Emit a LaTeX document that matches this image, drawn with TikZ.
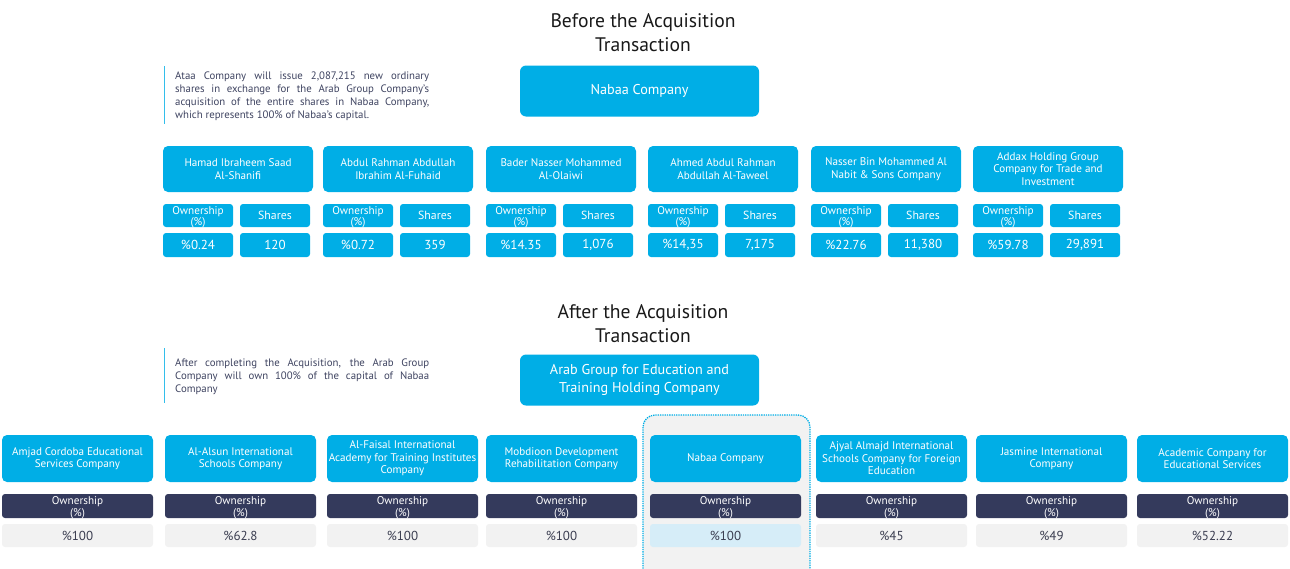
\documentclass[tikz,border=0pt]{standalone}
\usepackage{fontspec}
\setmainfont{PT Sans}
\usetikzlibrary{positioning}

\definecolor{nabaacyan}{HTML}{00AEE6}
\definecolor{ownnavy}{HTML}{343A5C}
\definecolor{valgrey}{HTML}{F2F2F2}
\definecolor{valblue}{HTML}{D6EDF8}
\definecolor{notegrey}{HTML}{3E4360}
\definecolor{valtext}{HTML}{3A3D50}

\tikzset{
  title/.style={align=center,font=\fontsize{19.6}{24}\selectfont,text=black!90},
  headbox/.style={fill=nabaacyan,text=white,rounded corners=6pt,align=center,
    minimum width=239pt,minimum height=51pt,inner sep=0pt,font=\fontsize{14.2}{18}\selectfont},
  note/.style={text width=254pt,align=justify,inner sep=0pt,text=notegrey,
    font=\fontsize{10.8}{13}\selectfont},
  notebar/.style={draw=nabaacyan!80,line width=1.5pt},
  namebox/.style={fill=nabaacyan,text=white,rounded corners=5pt,align=center,
    minimum width=150pt,minimum height=46pt,inner sep=0pt,font=\fontsize{11.1}{12.5}\selectfont},
  ownhead/.style={fill=nabaacyan,text=white,rounded corners=3pt,align=center,
    minimum width=70pt,minimum height=23pt,inner sep=0pt,text height=20pt,text depth=0pt,
    font=\fontsize{11.2}{10}\selectfont},
  shrhead/.style={ownhead,text height=,text depth=,font=\fontsize{11.8}{12}\selectfont},
  topval/.style={shrhead,minimum height=24pt,font=\fontsize{13}{14}\selectfont},
  subname/.style={namebox,minimum width=151pt,minimum height=47pt},
  navyhead/.style={fill=ownnavy,text=white,rounded corners=3pt,align=center,
    minimum width=151pt,minimum height=24pt,inner sep=0pt,text height=20pt,text depth=0pt,
    font=\fontsize{11.2}{10}\selectfont},
  pctbox/.style={fill=valgrey,text=valtext,rounded corners=3pt,
    minimum width=151pt,minimum height=23pt,inner sep=0pt,font=\fontsize{13}{14}\selectfont},
}

\begin{document}
\begin{tikzpicture}[x=1pt,y=-1pt]
  \useasboundingbox (0,0) rectangle (1290,568);

  % before the acquisition
  \node[title] (beforetitle) at (643,32.5) {Before the Acquisition\\Transaction};
  \node[headbox] (nabaatop) at (639.5,91) {Nabaa Company};
  \draw[notebar] (164.5,66) -- (164.5,124);
  \node[note,anchor=west] (beforenote) at (175,96.5) {Ataa Company will issue 2,087,215 new ordinary\linebreak
    shares in exchange for the Arab Group Company’s\linebreak
    acquisition of the entire shares in Nabaa Company,\linebreak
    which represents 100\% of Nabaa’s capital.};

  \node[namebox] (hamad) at (238,169) {Hamad Ibraheem Saad\\Al-Shanifi};
  \node[ownhead] (hamadown) at (198,215.5) {Ownership\\(\%)};
  \node[shrhead] (hamadshr) at (275,215.5) {Shares};
  \node[topval] (hamadpct) at (198,245) {\%0.24};
  \node[topval] (hamadnum) at (275,245) {120};

  \node[namebox] (fuhaid) at (398,169) {Abdul Rahman Abdullah\\Ibrahim Al-Fuhaid};
  \node[ownhead] (fuhaidown) at (358,215.5) {Ownership\\(\%)};
  \node[shrhead] (fuhaidshr) at (435,215.5) {Shares};
  \node[topval] (fuhaidpct) at (358,245) {\%0.72};
  \node[topval] (fuhaidnum) at (435,245) {359};

  \node[namebox] (olaiwi) at (561,169) {Bader Nasser Mohammed\\Al-Olaiwi};
  \node[ownhead] (olaiwiown) at (521,215.5) {Ownership\\(\%)};
  \node[shrhead] (olaiwishr) at (598,215.5) {Shares};
  \node[topval] (olaiwipct) at (521,245) {\%14.35};
  \node[topval] (olaiwinum) at (598,245) {1,076};

  \node[namebox] (taweel) at (723,169) {Ahmed Abdul Rahman\\Abdullah Al-Taweel};
  \node[ownhead] (taweelown) at (683,215.5) {Ownership\\(\%)};
  \node[shrhead] (taweelshr) at (760,215.5) {Shares};
  \node[topval] (taweelpct) at (683,245) {\%14,35};
  \node[topval] (taweelnum) at (760,245) {7,175};

  \node[namebox] (nabit) at (886,169) {Nasser Bin Mohammed Al\\Nabit \& Sons Company};
  \node[ownhead] (nabitown) at (846,215.5) {Ownership\\(\%)};
  \node[shrhead] (nabitshr) at (923,215.5) {Shares};
  \node[topval] (nabitpct) at (846,245) {\%22.76};
  \node[topval] (nabitnum) at (923,245) {11,380};

  \node[namebox] (addax) at (1048,169) {Addax Holding Group\\Company for Trade and\\Investment};
  \node[ownhead] (addaxown) at (1008,215.5) {Ownership\\(\%)};
  \node[shrhead] (addaxshr) at (1085,215.5) {Shares};
  \node[topval] (addaxpct) at (1008,245) {\%59.78};
  \node[topval] (addaxnum) at (1085,245) {29,891};

  % after the acquisition
  \node[title] (aftertitle) at (643,323.5) {After the Acquisition\\Transaction};
  \node[headbox] (arabgroup) at (639.5,380) {Arab Group for Education and\\Training Holding Company};
  \draw[notebar] (164.5,348) -- (164.5,403);
  \node[note,anchor=west] (afternote) at (175,377) {After completing the Acquisition, the Arab Group\linebreak
    Company will own 100\% of the capital of Nabaa\linebreak
    Company};

  \begin{scope}
    \clip (0,0) rectangle (1290,568);
    \draw[nabaacyan,densely dotted,line width=1.3pt,fill=valgrey,rounded corners=12pt]
      (643,415) rectangle (810,585);
  \end{scope}

  \node[subname] (cordoba) at (77.5,458.5) {Amjad Cordoba Educational\\Services Company};
  \node[navyhead] (cordobaown) at (77.5,506) {Ownership\\(\%)};
  \node[pctbox] (cordobapct) at (77.5,535.5) {\%100};

  \node[subname] (alsun) at (240.5,458.5) {Al-Alsun International\\Schools Company};
  \node[navyhead] (alsunown) at (240.5,506) {Ownership\\(\%)};
  \node[pctbox] (alsunpct) at (240.5,535.5) {\%62.8};

  \node[subname] (faisal) at (402.5,458.5) {Al-Faisal International\\Academy for Training Institutes\\Company};
  \node[navyhead] (faisalown) at (402.5,506) {Ownership\\(\%)};
  \node[pctbox] (faisalpct) at (402.5,535.5) {\%100};

  \node[subname] (mobdioon) at (561.5,458.5) {Mobdioon Development\\Rehabilitation Company};
  \node[navyhead] (mobdioonown) at (561.5,506) {Ownership\\(\%)};
  \node[pctbox] (mobdioonpct) at (561.5,535.5) {\%100};

  \node[subname] (nabaa) at (725.5,458.5) {Nabaa Company};
  \node[navyhead] (nabaaown) at (725.5,506) {Ownership\\(\%)};
  \node[pctbox,fill=valblue] (nabaapct) at (725.5,535.5) {\%100};

  \node[subname] (ajyal) at (891.5,458.5) {Ajyal Almajd International\\Schools Company for Foreign\\Education};
  \node[navyhead] (ajyalown) at (891.5,506) {Ownership\\(\%)};
  \node[pctbox] (ajyalpct) at (891.5,535.5) {\%45};

  \node[subname] (jasmine) at (1051.5,458.5) {Jasmine International\\Company};
  \node[navyhead] (jasmineown) at (1051.5,506) {Ownership\\(\%)};
  \node[pctbox] (jasminepct) at (1051.5,535.5) {\%49};

  \node[subname] (academic) at (1212.5,458.5) {Academic Company for\\Educational Services};
  \node[navyhead] (academicown) at (1212.5,506) {Ownership\\(\%)};
  \node[pctbox] (academicpct) at (1212.5,535.5) {\%52.22};
\end{tikzpicture}
\end{document}
